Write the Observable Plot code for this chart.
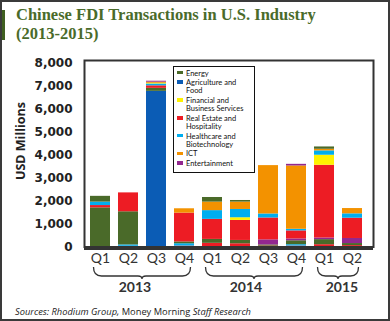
<!DOCTYPE html>
<html><head><meta charset="utf-8">
<script src="https://cdn.jsdelivr.net/npm/d3@7"></script>
<script src="https://cdn.jsdelivr.net/npm/@observablehq/plot@0.6"></script>
<style>
body{margin:0;background:#fff;}
#wrap{position:relative;width:390px;height:321px;overflow:hidden;background:#fff;}
#border{position:absolute;left:0;top:0;width:390px;height:321px;box-sizing:border-box;border:2px solid #3a3a3a;pointer-events:none;}
#greenbar{position:absolute;left:0;top:10px;width:5px;height:30px;background:#3f5f20;}
.title{position:absolute;left:16px;font-family:"Liberation Serif",serif;font-weight:bold;font-size:16.5px;line-height:17px;color:#4a6b2a;white-space:nowrap;}
#chart{position:absolute;left:0;top:0;}
#ylabel{position:absolute;left:20px;top:141px;transform:translate(-50%,-50%) rotate(-90deg);font-family:"Open Sans",sans-serif;font-weight:bold;font-size:12.5px;color:#222;white-space:nowrap;}
#legend{position:absolute;left:173px;top:66px;width:82px;height:107px;box-sizing:border-box;border:1.5px solid #111;background:#fff;padding:1.5px 0 0 0;font-family:Lato,sans-serif;font-size:8.3px;line-height:8.5px;color:#111;}
.lg{position:relative;padding-left:12px;margin-bottom:0.9px;white-space:nowrap;}
.sw{position:absolute;left:3px;top:2.4px;width:6px;height:3.5px;}
.tx{display:inline-block;transform:scaleX(0.9);transform-origin:0 0;}
#source{position:absolute;left:15px;top:305px;font-family:"Open Sans",sans-serif;font-size:9.3px;color:#222;white-space:nowrap;}
</style></head>
<body>
<div id="wrap">
  <div id="chart"></div>
  <div id="greenbar"></div>
  <div class="title" style="top:6px">Chinese FDI Transactions in U.S. Industry</div>
  <div class="title" style="top:25px">(2013-2015)</div>
  <div id="ylabel">USD Millions</div>
  <div id="legend"></div>
  <div id="source"><i>Sources: Rhodium Group,</i> Money Morning <i>Staff Research</i></div>
  <div id="border"></div>
</div>
<script>
// ---- data ----
const sectors = ["Energy","Agriculture and Food","Financial and Business Services","Real Estate and Hospitality","Healthcare and Biotechnology","ICT","Entertainment"];
const legendLines = [["Energy"],["Agriculture and","Food"],["Financial and","Business Services"],["Real Estate and","Hospitality"],["Healthcare and","Biotechnology"],["ICT"],["Entertainment"]];
const sectorColors = ["#4a6a29","#0b5cb5","#fff200","#ed1c24","#00aeef","#f39200","#92278f"];
const quarters = ["Q1","Q2","Q3","Q4","Q1","Q2","Q3","Q4","Q1","Q2"];
const years = ["2013","2013","2013","2013","2014","2014","2014","2014","2015","2015"];
const yearLabels = ["2013","2014","2015"];
const yTicks = [0,1000,2000,3000,4000,5000,6000,7000,8000];

const E="Energy", A="Agriculture and Food", F="Financial and Business Services", R="Real Estate and Hospitality", H="Healthcare and Biotechnology", I="ICT", N="Entertainment";
// segments bottom -> top, USD millions
const seg2013Q1 = [[E,1700],[R,100],[H,150],[E,250]];
const seg2013Q2 = [[R,30],[H,60],[E,1440],[R,820]];
const seg2013Q3 = [[A,6760],[E,130],[R,110],[H,80],[F,30],[I,50],[N,40]];
const seg2013Q4 = [[R,40],[H,100],[E,80],[R,1250],[I,190]];
const seg2014Q1 = [[R,160],[E,170],[R,870],[H,380],[I,370],[E,200]];
const seg2014Q2 = [[R,140],[E,145],[R,870],[F,115],[H,360],[I,320],[E,70]];
const seg2014Q3 = [[R,40],[E,50],[N,220],[R,950],[H,175],[I,2100]];
const seg2014Q4 = [[R,40],[H,60],[E,170],[N,80],[R,350],[H,70],[I,2750],[N,70]];
const seg2015Q1 = [[R,100],[E,220],[N,70],[R,3160],[F,435],[H,190],[I,70],[E,100]];
const seg2015Q2 = [[R,60],[E,90],[N,220],[R,880],[H,190],[I,230]];
const barSegments = [seg2013Q1,seg2013Q2,seg2013Q3,seg2013Q4,seg2014Q1,seg2014Q2,seg2014Q3,seg2014Q4,seg2015Q1,seg2015Q2];

// ---- build ----
const barKeys = years.map((y,i)=>y+" "+quarters[i]);
const rows = barSegments.flatMap((segs,i)=>segs.map(([s,v])=>({key:barKeys[i], sector:s, value:v})));

const chart = Plot.plot({
  width:390, height:300,
  marginTop:60, marginBottom:53.5, marginLeft:84, marginRight:17,
  style:{background:"transparent", fontFamily:"DejaVu Sans, sans-serif"},
  x:{type:"band", domain:barKeys, range:[84,368], paddingInner:0.3, paddingOuter:0.14, axis:null},
  y:{domain:[0,8100], axis:null},
  color:{domain:sectors, range:sectorColors},
  marks:[
    Plot.barY(rows, Plot.stackY({order:null}, {x:"key", y:"value", fill:"sector"})),
    Plot.frame({stroke:"#333", strokeWidth:2}),
    Plot.ruleY([0], {stroke:"#333", strokeWidth:3, dy:1.5}),
    Plot.axisY({ticks:yTicks, tickFormat:d3.format(","), tickSize:0, tickPadding:12, label:null, fontSize:12, fontWeight:"bold", fontFamily:"DejaVu Sans, sans-serif", color:"#222"}),
    Plot.text(barKeys, {x:d=>d, text:(d,i)=>quarters[i], frameAnchor:"bottom", dy:16, fontSize:14, fontFamily:"Lato, sans-serif", fill:"#333"})
  ]
});
document.getElementById("chart").appendChild(chart);

// braces + year labels from the x scale
const xs = chart.scale("x");
const bw = xs.bandwidth;
const svg = d3.select(chart);
const g = svg.append("g");
const yearDx = {"2013":-7, "2014":-8, "2015":4};
yearLabels.forEach(yr=>{
  const ks = barKeys.filter((k,i)=>years[i]===yr);
  const x0 = xs.apply(ks[0]) + 3.5;
  const x1 = xs.apply(ks[ks.length-1]) + bw - 3.5;
  const xm = (x0+x1)/2;
  const yt = 267, yb = 276;
  const p = `M${x0},${yt} Q${x0},${yb} ${x0+8},${yb} L${xm-4},${yb} Q${xm},${yb} ${xm},${yb+3} Q${xm},${yb} ${xm+4},${yb} L${x1-8},${yb} Q${x1},${yb} ${x1},${yt}`;
  g.append("path").attr("d",p).attr("fill","none").attr("stroke","#333").attr("stroke-width",1.3);
  g.append("text").attr("x",xm+yearDx[yr]).attr("y",287).attr("text-anchor","middle").attr("dy","0.35em")
    .attr("font-family","Lato, sans-serif").attr("font-weight","bold").attr("font-size",14).attr("fill","#333").text(yr);
});

// legend
const lg = d3.select("#legend");
sectors.forEach((s,i)=>{
  const e = lg.append("div").attr("class","lg");
  e.append("span").attr("class","sw").style("background",sectorColors[i]);
  e.append("span").attr("class","tx").html(legendLines[i].join("<br>"));
});
</script>
</body></html>
